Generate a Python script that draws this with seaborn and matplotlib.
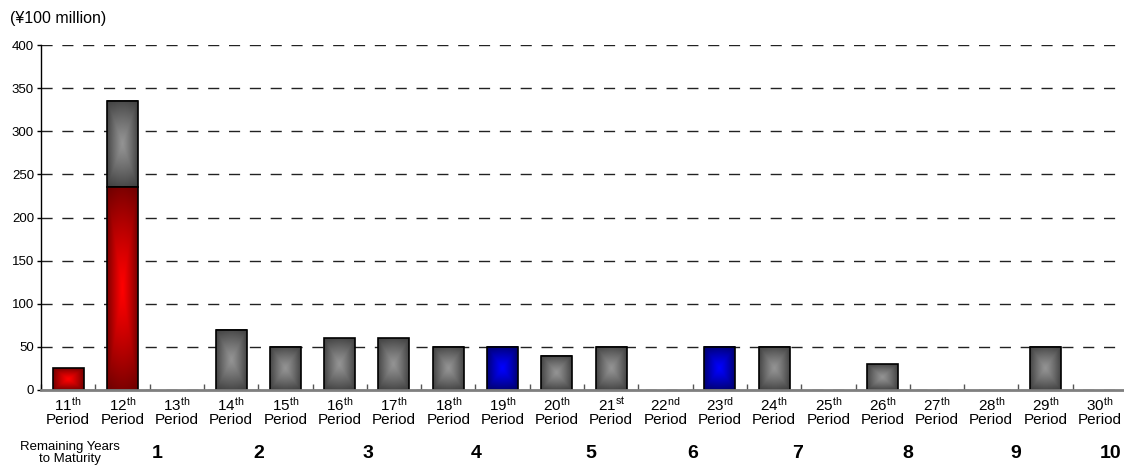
import numpy as np
import pandas as pd
import matplotlib
matplotlib.use("Agg")
import matplotlib.pyplot as plt
from matplotlib.transforms import blended_transform_factory
import seaborn as sns

# ---- data -------------------------------------------------------------
period_numbers = [11, 12, 13, 14, 15, 16, 17, 18, 19, 20,
                  21, 22, 23, 24, 25, 26, 27, 28, 29, 30]
ordinal_suffixes = ["th", "th", "th", "th", "th", "th", "th", "th", "th", "th",
                    "st", "nd", "rd", "th", "th", "th", "th", "th", "th", "th"]
# lower segment of each bar (¥100 million)
lower_values = [25, 235, 0, 70, 50, 60, 60, 50, 50, 40,
                50, 0, 50, 50, 0, 30, 0, 0, 50, 0]
# upper (stacked) segment, gray
upper_values = [0, 100, 0, 0, 0, 0, 0, 0, 0, 0,
                0, 0, 0, 0, 0, 0, 0, 0, 0, 0]
lower_groups = ["red", "red", "gray", "gray", "gray", "gray", "gray", "gray", "blue", "gray",
                "gray", "gray", "blue", "gray", "gray", "gray", "gray", "gray", "gray", "gray"]
years_to_maturity = [1, 2, 3, 4, 5, 6, 7, 8, 9, 10]
y_ticks = [0, 50, 100, 150, 200, 250, 300, 350, 400]

# ---- style ------------------------------------------------------------
sns.set_theme(style="white")
plt.rcParams["font.family"] = ["Liberation Sans", "DejaVu Sans"]
plt.rcParams["mathtext.fontset"] = "custom"
plt.rcParams["mathtext.rm"] = "Liberation Sans"
plt.rcParams["mathtext.it"] = "Liberation Sans:italic"
plt.rcParams["mathtext.bf"] = "Liberation Sans:bold"
plt.rcParams["text.color"] = "black"
plt.rcParams["xtick.color"] = "black"
plt.rcParams["ytick.color"] = "black"
plt.rcParams["axes.labelcolor"] = "black"

# gradient colours: (edge, centre)
gradient_colors = {
    "gray": ((0.24, 0.24, 0.24), (0.58, 0.58, 0.58)),
    "red": ((0.42, 0.0, 0.0), (1.0, 0.0, 0.0)),
    "blue": ((0.0, 0.0, 0.40), (0.0, 0.0, 1.0)),
}


def rect_gradient(edge, centre, ny):
    """'From centre' gradient: light centre, dark edges."""
    u = np.linspace(-1, 1, 48)
    v = np.linspace(-1, 1, ny)
    U, V = np.meshgrid(u, v)
    square = np.maximum(np.abs(U), np.abs(V))
    round_ = np.sqrt(U ** 2 + V ** 2) / np.sqrt(2)
    d = np.clip(0.65 * square + 0.35 * round_, 0, 1) ** 1.2
    e = np.array(edge)[None, None, :]
    c = np.array(centre)[None, None, :]
    return c * (1 - d[..., None]) + e * d[..., None]


labels = [f"{n}{s}" for n, s in zip(period_numbers, ordinal_suffixes)]
totals = [lo + up for lo, up in zip(lower_values, upper_values)]
df = pd.DataFrame({"period": labels, "lower": lower_values, "total": totals})

fig = plt.figure(figsize=(11.24, 4.68), dpi=100)
ax = fig.add_axes([41 / 1124, 78 / 468, 1086 / 1124, 345 / 468])

sns.barplot(data=df, x="period", y="total", order=labels, width=0.57,
            color="0.5", saturation=1, ax=ax)
sns.barplot(data=df, x="period", y="lower", order=labels, width=0.57,
            color="0.5", saturation=1, ax=ax)

n = len(labels)
total_patches = ax.patches[:n]
lower_patches = ax.patches[n:2 * n]


def outline(patch, z):
    patch.set_facecolor("none")
    patch.set_edgecolor("black")
    patch.set_linewidth(1.2)
    patch.set_zorder(z)


for i in range(n):
    tp, lp = total_patches[i], lower_patches[i]
    x0, w = lp.get_x(), lp.get_width()
    base_top = lp.get_y() + lp.get_height()
    # upper (stacked) segment
    if upper_values[i] > 0:
        top = tp.get_y() + tp.get_height()
        img = rect_gradient(*gradient_colors["gray"], 128)
        ax.imshow(img, extent=(x0, x0 + w, base_top, top), aspect="auto",
                  interpolation="bilinear", zorder=1.5, origin="lower")
        tp.set_y(base_top)
        tp.set_height(top - base_top)
        outline(tp, 1.6)
    else:
        tp.set_visible(False)
    # lower segment
    if lower_values[i] > 0:
        edge, centre = gradient_colors[lower_groups[i]]
        img = rect_gradient(edge, centre, 128)
        ax.imshow(img, extent=(x0, x0 + w, lp.get_y(), base_top), aspect="auto",
                  interpolation="bilinear", zorder=2, origin="lower")
        outline(lp, 2.1)
    else:
        lp.set_visible(False)

# ---- axes -------------------------------------------------------------
ax.set_xlim(-0.5, n - 0.5)
ax.set_ylim(0, 400)
ax.set_yticks(y_ticks)
ax.set_yticklabels([str(t) for t in y_ticks], fontsize=9.5)
ax.set_xticks(range(n))
ax.set_xticklabels([f"{p}$^{{\\mathrm{{{s}}}}}$\nPeriod"
                    for p, s in zip(period_numbers, ordinal_suffixes)],
                   fontsize=11, linespacing=1.0)
ax.set_xticks(np.arange(n + 1) - 0.5, minor=True)
ax.tick_params(axis="x", which="major", length=0, pad=4, colors="black")
ax.tick_params(axis="x", which="minor", length=4, width=1, direction="in",
               colors="#555555", bottom=True)
ax.tick_params(axis="y", which="major", length=3, width=1, direction="out",
               colors="black", pad=2, left=True)
ax.set_xlabel("")
ax.set_ylabel("")

ax.set_axisbelow(True)
ax.yaxis.grid(True, linestyle=(0, (8, 7)), color="#222222", linewidth=1)
ax.xaxis.grid(False)

for side in ("top", "right"):
    ax.spines[side].set_visible(False)
ax.spines["left"].set_color("black")
ax.spines["left"].set_linewidth(1)
ax.spines["bottom"].set_color("#7f7f7f")
ax.spines["bottom"].set_linewidth(2)
ax.spines["bottom"].set_zorder(3)

# unit label
fig.text(10 / 1124, 1 - 18 / 468, "(¥100 million)", fontsize=11.5,
         ha="left", va="center")

# remaining-years row
fig.text(70 / 1124, 1 - 453 / 468, "Remaining Years\nto Maturity", fontsize=9.5,
         ha="center", va="center", linespacing=1.1)
year_positions = [1.64, 3.51, 5.52, 7.51, 9.63, 11.51, 13.44, 15.47, 17.46, 19.2]
trans = blended_transform_factory(ax.transData, fig.transFigure)
for yr, xp in zip(years_to_maturity, year_positions):
    ax.text(xp, 1 - 454 / 468, str(yr), transform=trans, fontsize=14,
            fontweight="bold", ha="center", va="center", clip_on=False)

fig.savefig("out.png", dpi=100)
